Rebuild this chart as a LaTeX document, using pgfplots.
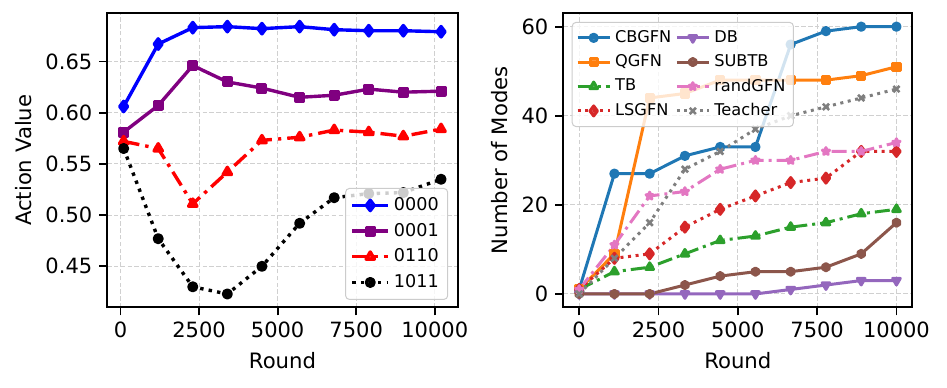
\documentclass[border=0pt]{standalone}
\usepackage{pgfplots}
\pgfplotsset{compat=1.18}
\usepackage{fontspec}
\setmainfont{DejaVu Sans}
\usetikzlibrary{plotmarks}

\definecolor{tabblue}{HTML}{1F77B4}
\definecolor{taborange}{HTML}{FF7F0E}
\definecolor{tabgreen}{HTML}{2CA02C}
\definecolor{tabred}{HTML}{D62728}
\definecolor{tabpurple}{HTML}{9467BD}
\definecolor{tabbrown}{HTML}{8C564B}
\definecolor{tabpink}{HTML}{E377C2}
\definecolor{tabgray}{HTML}{7F7F7F}
\definecolor{mplpurple}{HTML}{800080}
\definecolor{gridgray}{HTML}{D0D0D0}
\definecolor{legframe}{HTML}{CCCCCC}

\pgfdeclareplotmark{hexagon*}{%
  \pgfpathmoveto{\pgfpointpolar{90}{\pgfplotmarksize}}%
  \pgfpathlineto{\pgfpointpolar{150}{\pgfplotmarksize}}%
  \pgfpathlineto{\pgfpointpolar{210}{\pgfplotmarksize}}%
  \pgfpathlineto{\pgfpointpolar{270}{\pgfplotmarksize}}%
  \pgfpathlineto{\pgfpointpolar{330}{\pgfplotmarksize}}%
  \pgfpathlineto{\pgfpointpolar{30}{\pgfplotmarksize}}%
  \pgfpathclose
  \pgfusepathqfillstroke}
\pgfdeclareplotmark{fstar}{%
  \pgfpathmoveto{\pgfpointpolar{90}{\pgfplotmarksize}}%
  \pgfpathlineto{\pgfpointpolar{126}{0.42\pgfplotmarksize}}%
  \pgfpathlineto{\pgfpointpolar{162}{\pgfplotmarksize}}%
  \pgfpathlineto{\pgfpointpolar{198}{0.42\pgfplotmarksize}}%
  \pgfpathlineto{\pgfpointpolar{234}{\pgfplotmarksize}}%
  \pgfpathlineto{\pgfpointpolar{270}{0.42\pgfplotmarksize}}%
  \pgfpathlineto{\pgfpointpolar{306}{\pgfplotmarksize}}%
  \pgfpathlineto{\pgfpointpolar{342}{0.42\pgfplotmarksize}}%
  \pgfpathlineto{\pgfpointpolar{18}{\pgfplotmarksize}}%
  \pgfpathlineto{\pgfpointpolar{54}{0.42\pgfplotmarksize}}%
  \pgfpathclose
  \pgfusepathqfillstroke}

\pgfplotsset{
  mpl/.style={
    scale only axis,
    axis line style={line width=0.9pt, black},
    tick align=outside,
    major tick length=4pt,
    every tick/.style={line width=0.9pt, black},
    xtick pos=lower, ytick pos=left,
    grid=major,
    major grid style={dash pattern=on 2.2pt off 1.2pt, gridgray, line width=0.5pt},
    tick label style={font=\fontsize{10.5}{12}\selectfont},
    label style={font=\fontsize{10.6}{12}\selectfont},
    /pgf/number format/assume math mode=true,
    /pgf/number format/set thousands separator={},
    scaled ticks=false,
    legend cell align=left,
    xlabel={Round},
    xtick={0,2500,5000,7500,10000},
    every axis plot/.append style={line join=round},
  },
  mplleg/.style={
    fill=white, fill opacity=0.8, draw opacity=1, text opacity=1,
    draw=legframe, line width=0.5pt, rounded corners=2pt,
  },
}

\pgfplotstableread{
x     a0000  a0001  a0110  a1011
100   0.606  0.581  0.572  0.565
1200  0.667  0.607  0.565  0.477
2300  0.683  0.646  0.511  0.430
3400  0.684  0.630  0.542  0.423
4500  0.682  0.624  0.573  0.450
5700  0.684  0.615  0.576  0.492
6800  0.681  0.617  0.583  0.517
7900  0.680  0.623  0.581  0.521
9000  0.680  0.620  0.577  0.522
10200 0.679  0.621  0.584  0.535
}\lefttable

\pgfplotstableread{
x      CBGFN QGFN TB LSGFN DB SUBTB randGFN Teacher
0      1     1    1  1     0  0     1       0
1111   27    9    5  8     0  0     11      8
2222   27    44   6  9     0  0     22      16
3333   31    45   9  15    0  2     23      28
4444   33    48   12 19    0  4     28      32
5556   33    48   13 22    0  5     30      37
6667   56    48   15 25    1  5     30      40
7778   59    48   16 26    2  6     32      42
8889   60    49   18 32    3  9     32      44
10000  60    51   19 32    3  16    34      46
}\righttable

\begin{document}
\begin{tikzpicture}
\path[use as bounding box] (0pt,0pt) rectangle (473.5pt,193.5pt);

\begin{axis}[mpl,
  at={(53.65pt,39.85pt)}, anchor=south west,
  width=175.2pt, height=147pt,
  xmin=-420, xmax=10730, ymin=0.410, ymax=0.697,
  ytick={0.45,0.50,0.55,0.60,0.65},
  yticklabel style={/pgf/number format/fixed, /pgf/number format/fixed zerofill, /pgf/number format/precision=2},
  ylabel={Action Value},
  legend style={mplleg, at={(0.973,0.025)}, anchor=south east,
    font=\fontsize{8.8}{10}\selectfont, row sep=0.8pt, inner sep=2.5pt},
  legend image code/.code={\draw[mark repeat=2,mark phase=2,#1] plot coordinates {(0pt,0pt) (9pt,0pt) (18pt,0pt)};},
]
\addplot[blue, line width=1.7pt, mark=diamond*, mark size=2.6pt, mark options={solid}] table[x=x,y=a0000] {\lefttable};
\addlegendentry{0000}
\addplot[mplpurple, line width=1.7pt, mark=square*, mark size=1.9pt, mark options={solid}] table[x=x,y=a0001] {\lefttable};
\addlegendentry{0001}
\addplot[red, line width=1.7pt, dash pattern=on 8pt off 3pt on 1.7pt off 3pt, mark=triangle*, mark size=2.4pt, mark options={solid}] table[x=x,y=a0110] {\lefttable};
\addlegendentry{0110}
\addplot[black, line width=1.7pt, dash pattern=on 1.7pt off 2.6pt, mark=*, mark size=1.9pt, mark options={solid}] table[x=x,y=a1011] {\lefttable};
\addlegendentry{1011}
\end{axis}

\begin{axis}[mpl,
  at={(281.65pt,39.85pt)}, anchor=south west,
  width=174.5pt, height=147pt,
  xmin=-500, xmax=10500, ymin=-3, ymax=63,
  ytick={0,20,40,60},
  ylabel={Number of Modes},
  legend columns=4, transpose legend,
  legend style={mplleg, at={(0.024,0.971)}, anchor=north west,
    font=\fontsize{8.1}{9}\selectfont, row sep=0.6pt, inner sep=2pt,
    /tikz/every odd column/.style={column sep=0pt}},
  legend image code/.code={\draw[mark repeat=2,mark phase=2,#1] plot coordinates {(0pt,0pt) (8pt,0pt) (16pt,0pt)};},
]
\addplot[tabblue, line width=1.5pt, mark=*, mark size=1.8pt, mark options={solid}] table[x=x,y=CBGFN] {\righttable};
\addlegendentry{CBGFN}
\addplot[taborange, line width=1.5pt, mark=square*, mark size=1.8pt, mark options={solid}] table[x=x,y=QGFN] {\righttable};
\addlegendentry{QGFN}
\addplot[tabgreen, line width=1.5pt, dash pattern=on 7.5pt off 2.5pt on 1.5pt off 2.5pt, mark=triangle*, mark size=2.2pt, mark options={solid}] table[x=x,y=TB] {\righttable};
\addlegendentry{TB}
\addplot[tabred, line width=1.5pt, dash pattern=on 1.5pt off 2.3pt, mark=diamond*, mark size=2.5pt, mark options={solid}] table[x=x,y=LSGFN] {\righttable};
\addlegendentry{LSGFN}
\addplot[tabpurple, line width=1.5pt, mark=triangle*, mark size=2.2pt, mark options={solid, rotate=180}] table[x=x,y=DB] {\righttable};
\addlegendentry{DB}
\addplot[tabbrown, line width=1.5pt, mark=hexagon*, mark size=1.8pt, mark options={solid}] table[x=x,y=SUBTB] {\righttable};
\addlegendentry{SUBTB}
\addplot[tabpink, line width=1.5pt, dash pattern=on 7.5pt off 2.5pt on 1.5pt off 2.5pt, mark=fstar, mark size=1.9pt, mark options={solid}] table[x=x,y=randGFN] {\righttable};
\addlegendentry{randGFN}
\addplot[tabgray, line width=1.5pt, dash pattern=on 1.5pt off 2.3pt, mark=x, mark size=2.2pt, mark options={solid, line width=1.3pt}] table[x=x,y=Teacher] {\righttable};
\addlegendentry{Teacher}
\end{axis}
\end{tikzpicture}
\end{document}
